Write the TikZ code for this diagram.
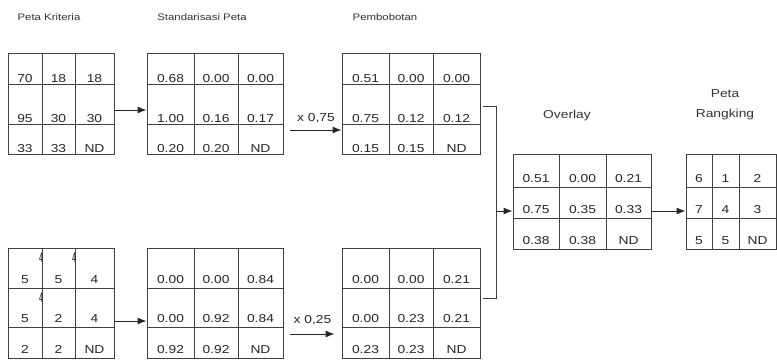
\documentclass[tikz,border=0pt]{standalone}
\usepackage{fontspec}
\setmainfont{Liberation Sans}
\usetikzlibrary{arrows.meta, fit}

\tikzset{
  gridframe/.style={draw=black!75, line width=0.9pt, inner sep=0pt},
  gridline/.style={draw=black!75, line width=0.9pt},
  celltext/.style={anchor=base, inner sep=0pt, xscale=1.2, text=black!85,
    font=\fontsize{11.5}{13}\selectfont},
  title/.style={xscale=1.2, text=black!80, font=\fontsize{9.5}{11}\selectfont},
  bigtitle/.style={xscale=1.2, text=black!80, font=\fontsize{11.5}{20}\selectfont},
  weight/.style={xscale=1.2, text=black!85, font=\fontsize{11.5}{13}\selectfont},
  tinyfour/.style={inner sep=0pt, yscale=2, text=black!85, font=\fontsize{7}{7}\selectfont},
  arr/.style={-{Latex[length=9pt, width=7pt]}, line width=0.9pt, draw=black!85},
}

% grid: name, {x0/x1/x2/x3}, {y0/y1/y2/y3}, text offset, {row/row/row, ...}
\newcommand{\petagrid}[5]{%
  \foreach \xa/\xb/\xc/\xd in {#2} {
    \foreach \ya/\yb/\yc/\yd in {#3} {
      \node[gridframe, fit={(\xa,\ya) (\xd,\yd)}] (#1) {};
      \draw[gridline] (\xb,\ya) -- (\xb,\yd) (\xc,\ya) -- (\xc,\yd)
        (\xa,\yb) -- (\xd,\yb) (\xa,\yc) -- (\xd,\yc);
      \foreach \p/\q/\r [count=\k] in {#5} {
        \ifcase\k\or\let\yy\yb\or\let\yy\yc\or\let\yy\yd\fi
        \node[celltext] (#1-\k-1) at ({(\xa+\xb)/2}, \yy-#4) {\p};
        \node[celltext] (#1-\k-2) at ({(\xb+\xc)/2}, \yy-#4) {\q};
        \node[celltext] (#1-\k-3) at ({(\xc+\xd)/2}, \yy-#4) {\r};
      }
    }
  }%
}

\begin{document}
\begin{tikzpicture}[x=1pt, y=-1pt]
  \useasboundingbox (0,0) rectangle (777,362);

  % titles
  \node[title] (tkrit) at (49,17) {Peta Kriteria};
  \node[title] (tstand) at (202,17) {Standarisasi Peta};
  \node[title] (tbobot) at (385,17) {Pembobotan};
  \node[bigtitle] (toverlay) at (567,116) {Overlay};
  \node[bigtitle, align=center] (trank) at (725,105) {Peta\\Rangking};

  % first criterion
  \petagrid{krit1}{8/42/75/114}{53/84/124/154}{2}
    {70/18/18, 95/30/30, 33/33/ND}
  \petagrid{stand1}{147/194/238/283}{53/84/124/154}{2}
    {0.68/0.00/0.00, 1.00/0.16/0.17, 0.20/0.20/ND}
  \petagrid{bobot1}{342/389/433/480}{53/84/124/154}{2}
    {0.51/0.00/0.00, 0.75/0.12/0.12, 0.15/0.15/ND}

  % second criterion
  \petagrid{krit2}{8/42/75/114}{248/288/327/358}{5}
    {5/5/4, 5/2/4, 2/2/ND}
  \petagrid{stand2}{147/194/238/283}{248/288/327/358}{5}
    {0.00/0.00/0.84, 0.00/0.92/0.84, 0.92/0.92/ND}
  \petagrid{bobot2}{342/389/433/480}{248/288/327/358}{5}
    {0.00/0.00/0.21, 0.00/0.23/0.21, 0.23/0.23/ND}
  \node[tinyfour] (four1) at (41,258) {4};
  \node[tinyfour] (four2) at (74,258) {4};
  \node[tinyfour] (four3) at (41,298) {4};

  % result
  \petagrid{overlay}{513/559/606/651}{154/187/218/249}{5}
    {0.51/0.00/0.21, 0.75/0.35/0.33, 0.38/0.38/ND}
  \petagrid{rank}{686/712/739/776}{154/187/218/249}{5}
    {6/1/2, 7/4/3, 5/5/ND}

  % connectors
  \draw[arr] ([yshift=-6.5pt]krit1.east) -- ([yshift=-6.5pt]stand1.west);
  \draw[arr] ([xshift=7pt, yshift=-26.5pt]stand1.east) -- ([yshift=-26.5pt]bobot1.west)
    node[weight, midway, above=3pt] (w1) {x 0,75};
  \draw[arr] ([yshift=-18pt]krit2.east) -- ([yshift=-18pt]stand2.west);
  \draw[arr] ([xshift=7pt, yshift=-31pt]stand2.east) -- ([xshift=-7pt, yshift=-31pt]bobot2.west)
    node[weight, midway, above=5pt] (w2) {x 0,25};

  \coordinate (join) at (496,211);
  \draw[gridline] ([xshift=3pt, yshift=-2.5pt]bobot1.east) -| (join);
  \draw[gridline] ([xshift=3pt, yshift=5pt]bobot2.east) -| (join);
  \draw[arr] (join) -- (overlay.west |- join);
  \draw[arr] (overlay.east |- join) -- (rank.west |- join);
\end{tikzpicture}
\end{document}
